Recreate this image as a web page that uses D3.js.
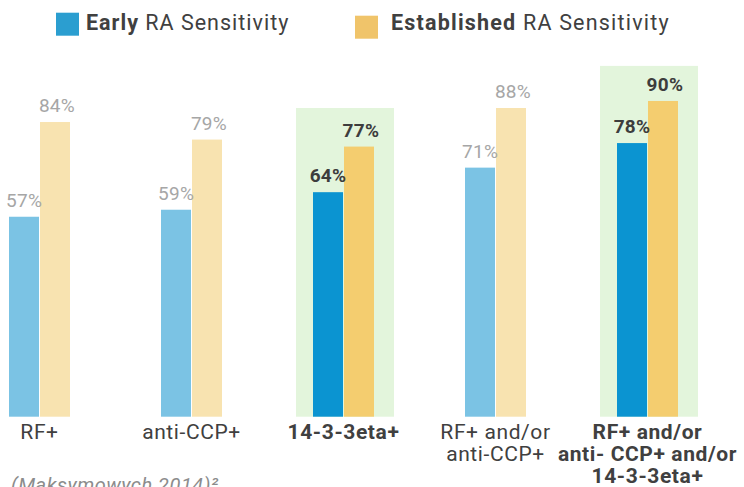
<!DOCTYPE html>
<html>
<head>
<meta charset="utf-8">
<script src="https://cdn.jsdelivr.net/npm/d3@7"></script>
<style>
  body { margin: 0; background: #fff; }
  svg { display: block; font-family: Roboto, "Noto Sans", sans-serif; }
</style>
</head>
<body>
<div id="chart"></div>
<script>
// chart values
const categories = [
    ["RF+"],
    ["anti-CCP+"],
    ["14-3-3eta+"],
    ["RF+ and/or", "anti-CCP+"],
    ["RF+ and/or", "anti- CCP+ and/or", "14-3-3eta+"]
];
const early = [57, 59, 64, 71, 78];
const established = [84, 79, 77, 88, 90];
const highlighted = [false, false, true, false, true];
const highlightTop = [0, 0, 88, 0, 100];
const seriesNames = [
    { bold: "Early", rest: " RA Sensitivity" },
    { bold: "Established", rest: " RA Sensitivity" }
];
const source = "(Maksymowych 2014)²";

const width = 744, height = 487;
const baseline = 416.7;

const svg = d3.select("#chart")
    .append("svg")
    .attr("width", width)
    .attr("height", height);

const x0 = d3.scaleBand()
    .domain(d3.range(categories.length))
    .range([-36.5, 723.5]);

const x1 = d3.scaleBand()
    .domain(["early", "established"])
    .range([0, 61])
    .paddingInner(0.032);

const y = d3.scaleLinear()
    .domain([0, 100])
    .range([baseline, 65.9]);

const groupLeft = i => x0(i) + (x0.bandwidth() - 61) / 2;

const colors = {
    early: { dim: "#7bc3e4", strong: "#0b94d1" },
    established: { dim: "#f8e3b0", strong: "#f4cd6f" }
};

// green highlight boxes
categories.forEach((c, i) => {
    if (!highlighted[i]) return;
    const cx = x0(i) + x0.bandwidth() / 2 + 1.5;
    svg.append("rect")
        .attr("x", cx - 49)
        .attr("width", 98)
        .attr("y", y(highlightTop[i]))
        .attr("height", baseline - y(highlightTop[i]))
        .attr("fill", "#e3f5dc");
});

const rows = categories.map((c, i) => ({
    i: i,
    values: [
        { key: "early", value: early[i] },
        { key: "established", value: established[i] }
    ]
}));

const groups = svg.selectAll("g.group")
    .data(rows)
    .join("g")
    .attr("class", "group")
    .attr("transform", d => `translate(${groupLeft(d.i)},0)`);

groups.selectAll("rect")
    .data(d => d.values.map(v => ({ ...v, hi: highlighted[d.i] })))
    .join("rect")
    .attr("x", d => x1(d.key))
    .attr("width", x1.bandwidth())
    .attr("y", d => y(d.value))
    .attr("height", d => baseline - y(d.value))
    .attr("fill", d => d.hi ? colors[d.key].strong : colors[d.key].dim);

groups.selectAll("text.val")
    .data(d => d.values.map(v => ({ ...v, hi: highlighted[d.i] })))
    .join("text")
    .attr("class", "val")
    .attr("x", d => x1(d.key) + x1.bandwidth() / 2 + (d.key === "established" ? 2 : 0))
    .attr("y", d => y(d.value) - 10)
    .attr("text-anchor", "middle")
    .style("font-size", "19px")
    .style("letter-spacing", "0.3px")
    .style("font-weight", d => d.hi ? 700 : 400)
    .attr("fill", d => d.hi ? "#3d3d3d" : "#a6a6a6")
    .text(d => d.value + "%");

// category labels
categories.forEach((lines, i) => {
    const t = svg.append("text")
        .attr("x", x0(i) + x0.bandwidth() / 2)
        .attr("y", 439)
        .attr("text-anchor", "middle")
        .style("font-size", "21px")
        .style("letter-spacing", "0.6px")
        .style("font-weight", highlighted[i] ? 700 : 400)
        .attr("fill", "#404040");
    lines.forEach((l, k) => {
        t.append("tspan")
            .attr("x", x0(i) + x0.bandwidth() / 2)
            .attr("dy", k === 0 ? 0 : 22)
            .text(l);
    });
});

// legend
const legendX = [56, 355];
const legendSwatch = ["#2b9ed0", "#f0c46a"];
seriesNames.forEach((s, i) => {
    svg.append("rect")
        .attr("x", legendX[i])
        .attr("y", i === 0 ? 12.7 : 15.7)
        .attr("width", 23)
        .attr("height", 23)
        .attr("fill", legendSwatch[i]);
    const t = svg.append("text")
        .attr("x", legendX[i] + 30 + (i === 1 ? 6 : 0))
        .attr("y", 30)
        .style("font-size", "21.5px")
        .style("letter-spacing", i === 0 ? "1px" : "1.2px")
        .attr("fill", "#404040");
    t.append("tspan").style("font-weight", 700).text(s.bold);
    t.append("tspan").text(s.rest);
});

// source note
svg.append("text")
    .attr("x", 11)
    .attr("y", 492)
    .style("font-size", "20px")
    .style("font-style", "italic")
    .style("letter-spacing", "0.5px")
    .attr("fill", "#8c8c8c")
    .text(source);
</script>
</body>
</html>
